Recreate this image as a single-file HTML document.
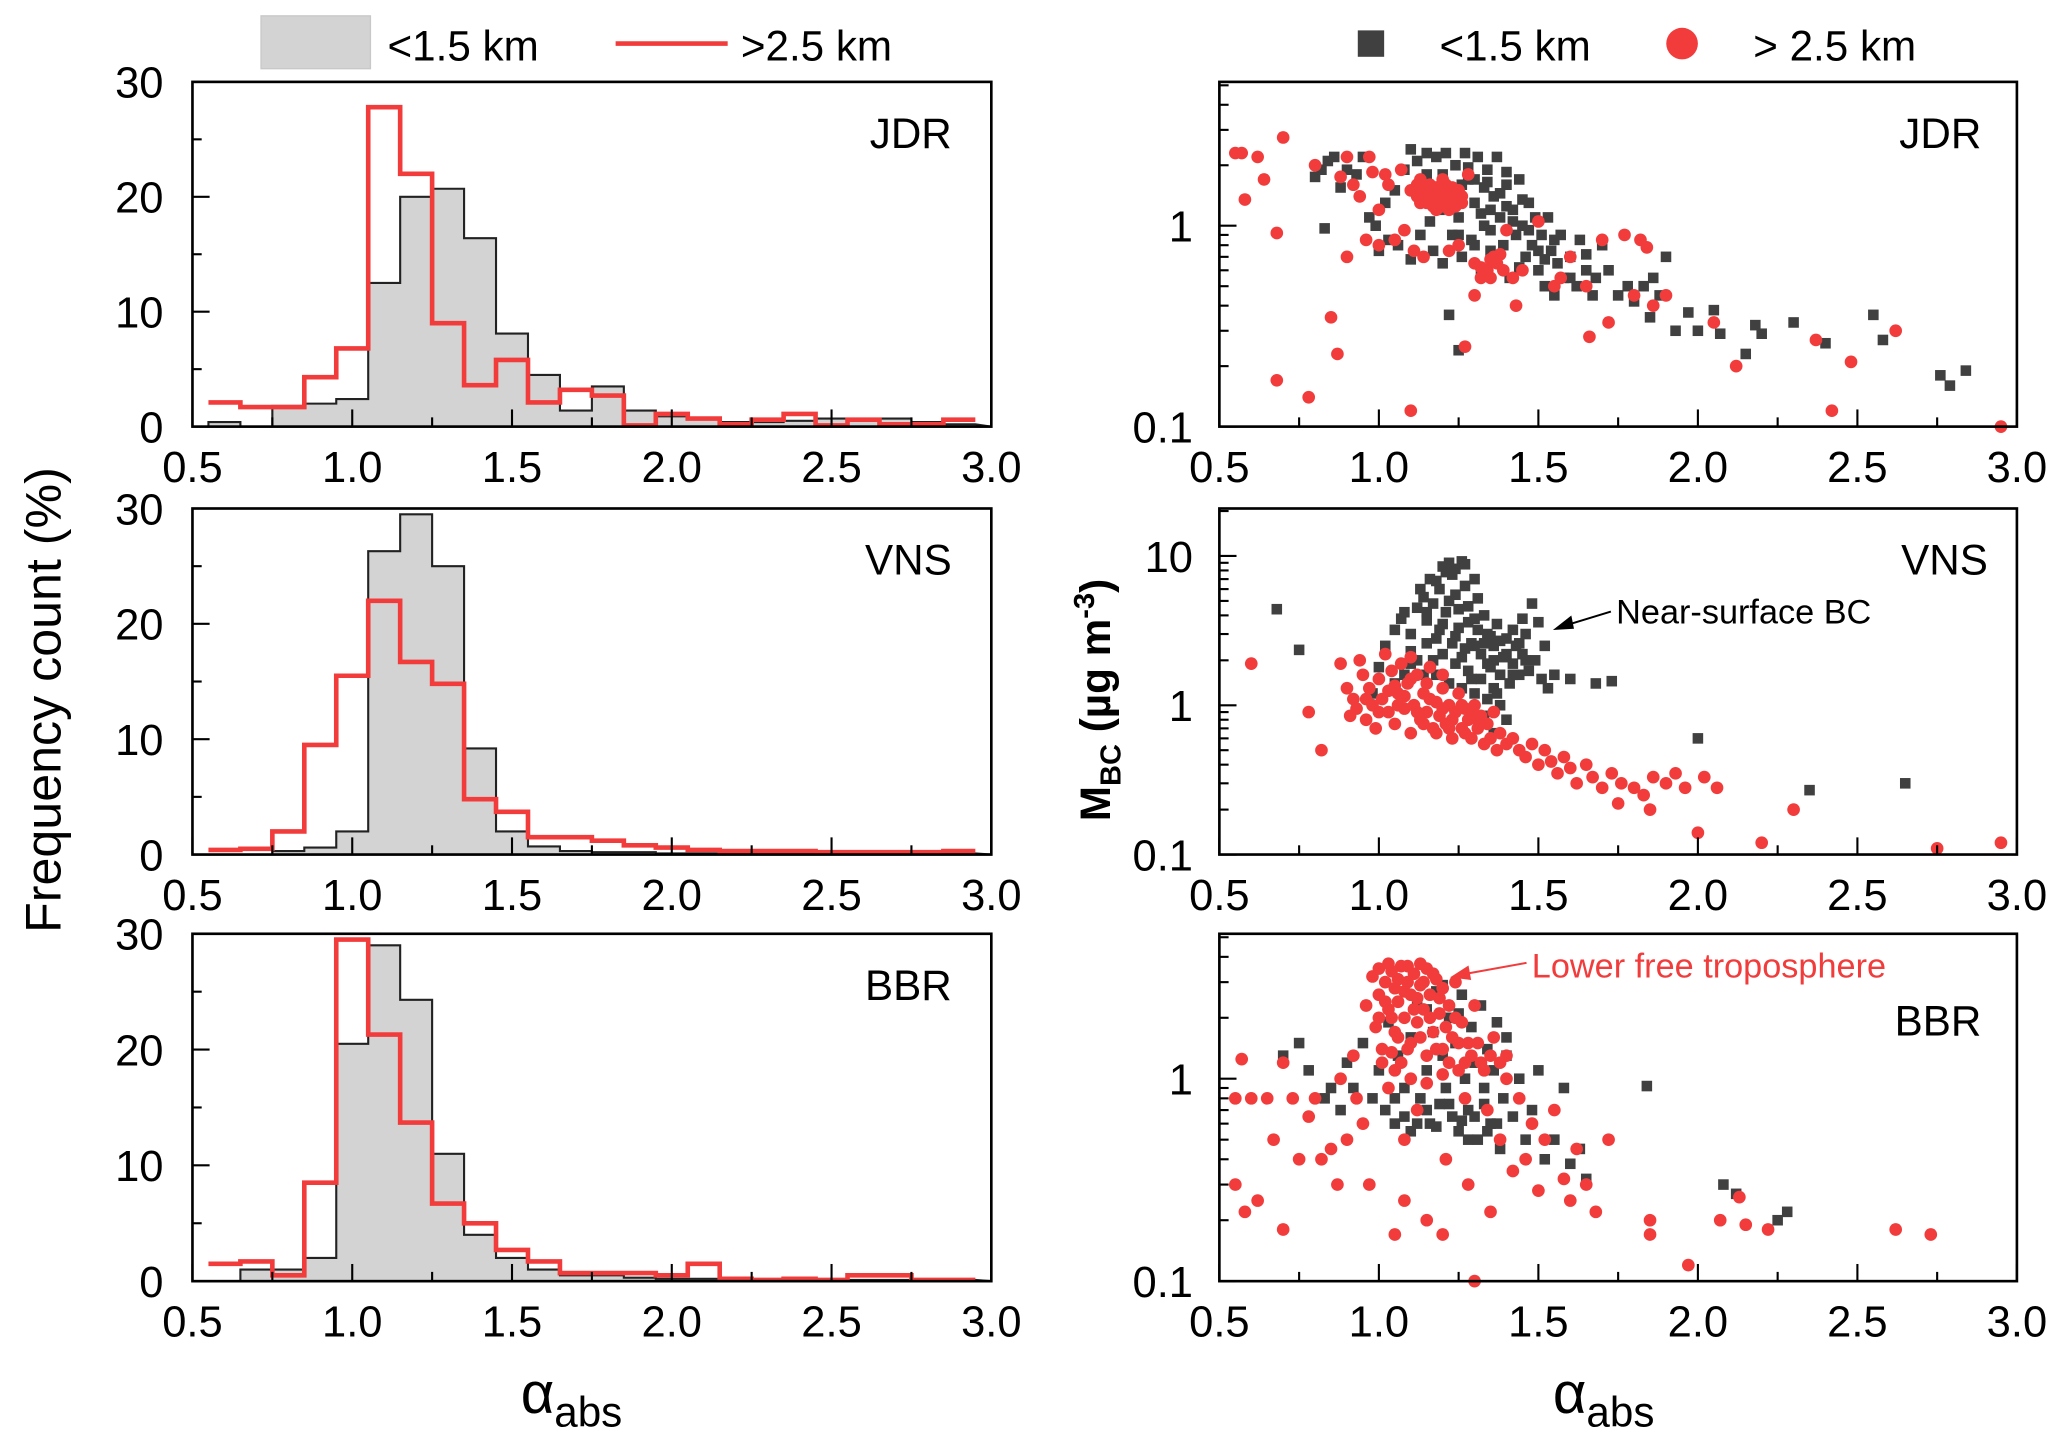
<!DOCTYPE html>
<html><head><meta charset="utf-8"><title>alpha_abs histograms and MBC scatter</title>
<style>
html,body{margin:0;padding:0;background:#fff;}
svg{display:block;font-family:"Liberation Sans",Arial,sans-serif;}
</style></head>
<body>
<svg id="fig" width="2067" height="1437" viewBox="0 0 1568 1088" preserveAspectRatio="none" xmlns="http://www.w3.org/2000/svg">
  <rect x="0" y="0" width="1568" height="1088" fill="#fff"/>
  <g>
    <rect x="198" y="12" width="83" height="40" fill="#d3d3d3" stroke="#c8c8c8"/>
    <text x="294" y="46" font-size="32">&lt;1.5 km</text>
    <line x1="467" y1="33" x2="552" y2="33" stroke="#f23c3c" stroke-width="3.5"/>
    <text x="562" y="46" font-size="32">&gt;2.5 km</text>
  </g>
  <g>
    <rect x="1030" y="23" width="20" height="20" fill="#404040"/>
    <text x="1092" y="46" font-size="32">&lt;1.5 km</text>
    <circle cx="1276" cy="33" r="12" fill="#f23c3c"/>
    <text x="1330" y="46" font-size="32">&gt; 2.5 km</text>
  </g>
  <text transform="translate(46,530) rotate(-90)" text-anchor="middle" font-size="38">Frequency count (%)</text>
  <text transform="translate(842,530) rotate(-90)" text-anchor="middle" font-size="32" font-weight="bold">M<tspan font-size="22" dy="8">BC</tspan><tspan dy="-8"> (µg m</tspan><tspan font-size="22" dy="-12">-3</tspan><tspan dy="12">)</tspan></text>
  <text x="395" y="1070" font-size="44">α<tspan font-size="32" dy="10">abs</tspan></text>
  <text x="1178" y="1070" font-size="44">α<tspan font-size="32" dy="10">abs</tspan></text>
  <g id="plots"></g>
</svg>
<script>
// ---- histogram data (bins of width 0.1, centers 0.6 ... 2.9) ----
const binCenters = [0.6,0.7,0.8,0.9,1.0,1.1,1.2,1.3,1.4,1.5,1.6,1.7,1.8,1.9,2.0,2.1,2.2,2.3,2.4,2.5,2.6,2.7,2.8,2.9];
const jdrNear = [0.4,0,1.8,2.0,2.4,12.5,20,20.7,16.4,8.1,4.5,1.4,3.5,1.4,0.9,0.7,0.4,0.4,0.5,0.7,0.6,0.7,0.4,0.2];
const jdrFree = [2.1,1.7,1.7,4.3,6.8,27.8,22,9,3.6,5.8,2.1,3.2,2.7,0.1,1.1,0.7,0.2,0.6,1.1,0.1,0.6,0.2,0.2,0.6];
const vnsNear = [0,0,0.3,0.6,2,26.3,29.5,25,9.2,2,0.7,0.3,0.2,0.2,0.1,0.1,0.1,0.1,0.1,0.1,0.1,0.1,0.1,0.1];
const vnsFree = [0.4,0.5,2,9.5,15.5,22,16.7,14.8,4.8,3.7,1.5,1.5,1.2,0.8,0.6,0.4,0.3,0.3,0.3,0.2,0.2,0.2,0.2,0.3];
const bbrNear = [0,1,1,2,20.5,29,24.3,11,4,2,1,0.5,0.5,0.3,0.2,0.2,0.1,0.1,0.1,0.1,0.1,0.1,0.1,0.1];
const bbrFree = [1.5,1.7,0.5,8.5,29.5,21.3,13.7,6.7,5,2.7,1.7,0.7,0.7,0.7,0.5,1.5,0.2,0.1,0.2,0.1,0.5,0.5,0.1,0.1];
const xTicks = [0.5,1.0,1.5,2.0,2.5,3.0];
const xTickLabels = ["0.5","1.0","1.5","2.0","2.5","3.0"];
const histYTicks = [0,10,20,30];
const histYTickLabels = ["0","10","20","30"];
const logTickLabelsA = ["0.1","1"];
const logTickLabelsB = ["0.1","1","10"];

// ---- scatter data [alpha_abs, M_BC] ----
const jdrNearPts = [[0.8,1.75],[0.82,1.9],[0.84,2.1],[0.86,2.2],[0.88,1.55],[0.83,0.97],[0.9,1.9],[0.93,1.8],[0.95,2.2],[0.97,1.1],[0.99,1.0],[1.0,0.75],[1.02,1.3],[1.03,0.85],[1.05,1.5],[1.06,0.8],[1.08,1.9],[1.1,2.4],[1.1,0.68],[1.12,2.1],[1.13,0.9],[1.14,1.6],[1.15,2.3],[1.16,1.05],[1.17,0.75],[1.18,2.2],[1.19,1.2],[1.2,0.65],[1.21,2.3],[1.22,1.5],[1.23,0.9],[1.24,2.0],[1.25,1.1],[1.26,0.7],[1.27,2.3],[1.28,1.7],[1.29,0.85],[1.3,1.3],[1.31,2.2],[1.32,0.6],[1.33,1.0],[1.34,1.9],[1.35,0.75],[1.36,1.4],[1.37,2.2],[1.38,1.1],[1.39,0.8],[1.4,1.6],[1.41,0.55],[1.42,1.2],[1.43,0.9],[1.44,1.7],[1.45,1.0],[1.46,0.7],[1.47,1.3],[1.48,0.8],[1.49,1.1],[1.5,0.6],[1.51,0.9],[1.52,0.5],[1.53,1.1],[1.54,0.75],[1.55,0.45],[1.56,0.65],[1.57,0.9],[1.58,0.55],[1.6,0.7],[1.62,0.5],[1.63,0.85],[1.65,0.6],[1.67,0.45],[1.68,0.55],[1.7,0.8],[1.72,0.6],[1.75,0.45],[1.78,0.5],[1.8,0.42],[1.83,0.5],[1.85,0.35],[1.86,0.55],[1.88,0.45],[1.9,0.7],[1.93,0.3],[1.97,0.37],[2.0,0.3],[2.05,0.38],[2.07,0.29],[2.15,0.23],[2.18,0.32],[2.2,0.29],[2.3,0.33],[2.4,0.26],[2.55,0.36],[2.58,0.27],[2.76,0.18],[2.79,0.16],[2.84,0.19],[1.22,0.36],[1.25,0.24],[1.15,1.8],[1.3,1.7],[1.2,1.4],[1.35,1.2],[1.28,1.95],[1.33,1.55],[1.38,1.45],[1.42,1.05],[1.45,1.35],[1.47,0.95],[1.35,0.95],[1.4,1.25],[1.32,1.15],[1.25,0.9],[1.3,0.8],[1.37,0.68],[1.44,0.62],[1.5,0.75],[1.55,0.85],[1.6,0.55],[1.65,0.72],[1.52,0.68],[1.2,1.8],[1.26,1.6],[1.4,1.85],[1.34,1.65]];
const jdrFreePts = [[0.55,2.3],[0.57,2.3],[0.62,2.2],[0.64,1.7],[0.58,1.35],[0.7,2.75],[0.68,0.92],[0.68,0.17],[0.78,0.14],[0.8,2.0],[0.85,0.35],[0.87,0.23],[0.88,1.75],[0.9,0.7],[0.9,2.2],[0.92,1.6],[0.94,1.4],[0.96,0.85],[0.97,2.2],[0.98,1.85],[1.0,0.8],[1.0,1.2],[1.02,1.8],[1.03,1.6],[1.05,0.85],[1.07,1.9],[1.08,0.95],[1.1,0.12],[1.1,1.5],[1.11,0.75],[1.12,1.4],[1.13,1.7],[1.14,0.7],[1.15,1.3],[1.16,1.6],[1.17,1.45],[1.18,1.2],[1.19,1.5],[1.2,1.35],[1.21,1.6],[1.22,1.3],[1.23,1.4],[1.24,1.25],[1.25,1.5],[1.26,1.4],[1.22,0.75],[1.25,0.8],[1.27,0.25],[1.28,1.8],[1.3,0.45],[1.3,0.65],[1.32,0.55],[1.34,0.6],[1.36,0.7],[1.37,0.65],[1.38,0.72],[1.4,0.95],[1.42,0.55],[1.43,0.4],[1.45,0.6],[1.5,1.05],[1.55,0.5],[1.57,0.55],[1.6,0.7],[1.65,0.5],[1.7,0.85],[1.72,0.33],[1.66,0.28],[1.77,0.9],[1.8,0.45],[1.82,0.85],[1.84,0.78],[1.86,0.4],[1.9,0.45],[2.05,0.33],[2.12,0.2],[2.37,0.27],[2.42,0.12],[2.48,0.21],[2.62,0.3],[2.95,0.1],[1.14,1.45],[1.16,1.35],[1.18,1.55],[1.2,1.25],[1.21,1.45],[1.23,1.55],[1.19,1.3],[1.17,1.25],[1.15,1.55],[1.24,1.38],[1.22,1.2],[1.13,1.3],[1.12,1.6],[1.26,1.3],[1.2,1.7],[1.32,0.62],[1.35,0.55],[1.39,0.6],[1.35,0.68]];
const vnsNearPts = [[0.68,4.4],[0.75,2.35],[0.98,1.2],[1.0,1.8],[1.02,2.5],[1.05,3.2],[1.07,3.8],[1.08,4.2],[1.1,3.0],[1.12,4.5],[1.13,6.0],[1.14,5.3],[1.15,3.7],[1.16,7.0],[1.17,4.8],[1.18,2.8],[1.19,6.0],[1.2,8.5],[1.21,4.2],[1.22,9.0],[1.23,7.5],[1.24,5.5],[1.25,3.3],[1.26,9.2],[1.27,6.3],[1.28,4.6],[1.29,2.6],[1.3,7.0],[1.3,3.8],[1.31,5.2],[1.32,2.2],[1.33,4.0],[1.34,3.0],[1.35,1.8],[1.36,2.5],[1.37,3.5],[1.38,1.6],[1.39,2.1],[1.4,2.8],[1.41,1.4],[1.42,1.9],[1.43,2.5],[1.44,1.6],[1.45,2.2],[1.46,3.0],[1.47,1.7],[1.48,4.8],[1.49,2.0],[1.5,3.6],[1.51,1.5],[1.52,2.5],[1.53,1.3],[1.55,1.6],[1.12,2.0],[1.15,2.6],[1.18,1.6],[1.2,2.2],[1.22,1.4],[1.24,1.9],[1.26,1.3],[1.28,1.7],[1.3,1.2],[1.32,1.5],[1.34,1.1],[1.36,1.3],[1.38,1.0],[1.33,0.85],[1.36,0.65],[1.4,0.8],[1.2,3.5],[1.24,2.9],[1.1,2.3],[1.08,1.6],[1.17,2.0],[1.6,1.5],[1.68,1.4],[1.73,1.45],[2.0,0.6],[2.35,0.27],[2.65,0.3],[1.05,1.4],[1.27,2.4],[1.35,2.9],[1.42,3.2],[1.45,3.8],[1.18,6.8],[1.21,7.8],[1.24,8.2],[1.27,8.8],[1.22,5.0],[1.25,4.4],[1.28,3.6],[1.31,3.2],[1.33,2.6],[1.36,2.0],[1.38,2.7],[1.4,2.2],[1.42,1.6],[1.44,2.6],[1.46,2.0],[1.15,4.2],[1.19,3.2],[1.23,2.6],[1.26,2.1],[1.3,2.5],[1.34,1.9],[1.29,1.5],[1.37,1.2],[1.1,1.9],[1.14,1.6]];
const vnsFreePts = [[0.6,1.9],[0.78,0.9],[0.82,0.5],[0.88,1.9],[0.9,1.3],[0.91,0.85],[0.92,1.1],[0.93,0.95],[0.94,2.0],[0.95,1.6],[0.96,0.8],[0.97,1.3],[0.98,1.0],[0.99,0.7],[1.0,1.5],[1.01,1.1],[1.02,2.2],[1.03,0.9],[1.04,1.7],[1.05,0.75],[1.06,1.2],[1.07,1.9],[1.08,0.95],[1.09,1.4],[1.1,0.65],[1.1,2.1],[1.11,1.0],[1.12,1.6],[1.13,0.8],[1.14,1.2],[1.15,0.9],[1.16,1.8],[1.17,0.7],[1.18,1.05],[1.19,0.85],[1.2,1.3],[1.21,0.75],[1.22,1.0],[1.23,0.6],[1.24,0.9],[1.25,1.2],[1.26,0.7],[1.27,0.95],[1.28,0.8],[1.29,0.6],[1.3,1.0],[1.31,0.7],[1.32,0.85],[1.33,0.55],[1.34,0.75],[1.35,0.6],[1.36,0.9],[1.37,0.5],[1.38,0.65],[1.4,0.55],[1.42,0.6],[1.44,0.5],[1.46,0.45],[1.48,0.55],[1.5,0.4],[1.52,0.5],[1.54,0.42],[1.56,0.35],[1.58,0.45],[1.6,0.38],[1.62,0.3],[1.65,0.4],[1.67,0.33],[1.7,0.28],[1.73,0.35],[1.76,0.3],[1.8,0.28],[1.83,0.25],[1.86,0.33],[1.9,0.3],[1.93,0.35],[1.96,0.28],[2.02,0.33],[2.06,0.28],[2.0,0.14],[2.2,0.12],[2.3,0.2],[2.75,0.11],[2.95,0.12],[1.75,0.22],[1.85,0.2],[1.1,1.5],[1.15,1.4],[1.2,1.6],[1.05,1.35],[1.08,1.15],[1.12,0.9],[1.16,1.1],[1.2,0.95],[1.23,0.8],[1.26,1.0],[1.29,0.9],[1.31,0.8],[1.03,1.25],[1.06,1.0],[1.0,0.9],[0.96,1.1],[1.14,0.75],[1.18,0.65],[1.22,0.7],[1.27,0.65]];
const bbrNearPts = [[0.7,1.3],[0.75,1.5],[0.78,1.1],[0.83,0.8],[0.85,0.9],[0.88,0.7],[0.9,1.2],[0.92,0.9],[0.95,1.5],[0.98,0.8],[1.0,1.1],[1.02,0.7],[1.03,1.9],[1.05,0.6],[1.06,1.3],[1.08,0.9],[1.1,1.6],[1.1,0.55],[1.12,2.4],[1.13,0.8],[1.15,1.1],[1.16,0.6],[1.17,1.7],[1.18,2.7],[1.19,0.75],[1.2,1.3],[1.21,0.9],[1.22,2.0],[1.23,0.65],[1.24,1.5],[1.25,0.55],[1.26,2.6],[1.27,1.0],[1.28,0.7],[1.29,1.8],[1.3,1.2],[1.31,0.5],[1.32,2.3],[1.33,0.9],[1.34,1.4],[1.35,0.6],[1.36,1.1],[1.37,1.9],[1.38,0.45],[1.39,0.8],[1.4,1.3],[1.42,0.65],[1.44,1.0],[1.46,0.5],[1.48,0.7],[1.5,1.1],[1.52,0.4],[1.55,0.5],[1.58,0.9],[1.6,0.38],[1.63,0.45],[1.65,0.32],[1.84,0.92],[2.08,0.3],[2.12,0.27],[2.25,0.2],[2.28,0.22],[1.15,2.2],[1.2,2.9],[1.25,2.1],[1.4,1.6],[1.08,0.65],[1.12,0.6],[1.18,0.58],[1.22,0.75],[1.26,0.62],[1.3,0.65],[1.34,0.55],[1.15,0.7],[1.05,0.8],[1.28,0.5],[1.33,0.75],[1.37,0.6]];
const bbrFreePts = [[0.55,0.8],[0.57,1.25],[0.55,0.3],[0.58,0.22],[0.6,0.8],[0.62,0.25],[0.65,0.8],[0.67,0.5],[0.7,1.2],[0.7,0.18],[0.73,0.8],[0.75,0.4],[0.78,0.65],[0.8,0.8],[0.82,0.4],[0.85,0.45],[0.87,0.3],[0.88,1.0],[0.9,0.5],[0.92,1.3],[0.93,0.8],[0.95,0.6],[0.96,2.3],[0.97,0.3],[0.98,3.2],[0.99,1.8],[1.0,3.5],[1.0,2.6],[1.01,1.4],[1.02,3.0],[1.03,2.2],[1.03,0.9],[1.04,3.4],[1.05,1.7],[1.05,2.8],[1.06,2.4],[1.07,3.6],[1.07,1.2],[1.08,2.0],[1.08,0.5],[1.09,3.0],[1.1,2.6],[1.1,1.5],[1.11,3.3],[1.12,1.9],[1.12,0.7],[1.13,2.9],[1.14,2.2],[1.15,3.5],[1.15,1.3],[1.16,2.6],[1.17,1.7],[1.18,3.1],[1.19,2.1],[1.2,1.4],[1.2,2.8],[1.21,0.4],[1.22,2.3],[1.23,1.6],[1.24,3.0],[1.25,1.1],[1.26,1.9],[1.27,0.8],[1.28,1.5],[1.3,2.3],[1.32,1.2],[1.34,0.7],[1.36,1.6],[1.38,0.5],[1.4,1.0],[1.42,0.35],[1.44,0.8],[1.46,0.4],[1.48,0.6],[1.5,0.28],[1.52,0.5],[1.55,0.7],[1.58,0.32],[1.6,0.25],[1.62,0.45],[1.65,0.3],[1.68,0.22],[1.72,0.5],[1.08,0.25],[1.15,0.2],[1.2,0.17],[1.28,0.3],[1.35,0.22],[1.05,0.17],[1.3,0.1],[1.85,0.2],[1.85,0.17],[1.97,0.12],[2.07,0.2],[2.13,0.26],[2.15,0.19],[2.22,0.18],[2.62,0.18],[2.73,0.17],[1.12,2.5],[1.06,3.1],[1.0,2.0],[1.17,3.3],[1.02,2.4],[1.04,2.0],[1.06,1.6],[1.08,2.7],[1.09,1.4],[1.11,2.2],[1.13,1.6],[1.14,3.0],[1.16,2.0],[1.18,1.4],[1.19,2.5],[1.21,1.8],[1.22,1.2],[1.24,2.0],[1.25,1.5],[1.27,1.2],[1.29,1.3],[1.31,1.5],[1.33,1.1],[1.35,1.3],[1.38,1.2],[1.4,1.3],[1.05,1.1],[1.1,1.0],[1.15,0.95],[1.2,1.05],[1.03,3.7],[1.09,3.6],[1.13,3.7],[1.01,1.2],[1.04,1.35]];

const NS = "http://www.w3.org/2000/svg";
const root = document.getElementById("plots");
const RED = "#f23c3c", GRAY = "#404040";
function mk(tag, attrs, parent) {
  const e = document.createElementNS(NS, tag);
  for (const k in attrs) e.setAttribute(k, attrs[k]);
  (parent || root).appendChild(e);
  return e;
}
const panels = [
  {top:62, bottom:323}, {top:385, bottom:647}, {top:707, bottom:970}
];
const LX0 = 146, LX1 = 752, RX0 = 925, RX1 = 1530;
function xScale(x0, x1) { return v => x0 + (v - 0.5) / 2.5 * (x1 - x0); }

function xAxis(g, sx, bottom, x0, x1) {
  for (let v = 0.5; v <= 3.001; v += 0.25) {
    const major = Math.abs(v * 2 - Math.round(v * 2)) < 1e-6;
    const t = mk("line", {x1: sx(v), x2: sx(v), y1: bottom, y2: bottom - (major ? 13 : 7), stroke: "#000", "stroke-width": 1.6}, g);
    
    
  }
  xTicks.forEach((v, i) => {
    const t = mk("text", {x: sx(v), y: bottom + 42, "text-anchor": "middle", "font-size": 33}, g);
    t.textContent = xTickLabels[i];
    
    
  });
}
function frame(g, x0, x1, p) {
  const r = mk("rect", {x: x0, y: p.top, width: x1 - x0, height: p.bottom - p.top, fill: "none", stroke: "#000", "stroke-width": 2}, g);
  
  
}
function label(g, txt, x, y, name) {
  const t = mk("text", {x: x, y: y, "text-anchor": "end", "font-size": 32}, g);
  t.textContent = txt;
  
  
}

// ---- histograms ----
const hist = [[jdrNear, jdrFree, "JDR"], [vnsNear, vnsFree, "VNS"], [bbrNear, bbrFree, "BBR"]];
hist.forEach((h, i) => {
  const p = panels[i];
  const g = mk("g", {});
  
  
  const sx = xScale(LX0, LX1);
  const sy = v => p.bottom - v / 30 * (p.bottom - p.top);
  let d = "M" + sx(binCenters[0] - 0.05) + "," + sy(0);
  h[0].forEach((v, k) => {
    d += " L" + sx(binCenters[k] - 0.05) + "," + sy(v) + " L" + sx(binCenters[k] + 0.05) + "," + sy(v);
  });
  d += " L" + sx(3.0) + "," + sy(0) + " Z";
  const gp = mk("path", {d: d, fill: "#d3d3d3", stroke: "#222", "stroke-width": 1.6}, g);
  
  
  let rd = "";
  h[1].forEach((v, k) => {
    rd += (k ? " L" : "M") + sx(binCenters[k] - 0.05) + "," + sy(v) + " L" + sx(binCenters[k] + 0.05) + "," + sy(v);
  });
  const rp = mk("path", {d: rd, fill: "none", stroke: RED, "stroke-width": 3.5, "stroke-linejoin": "miter"}, g);
  
  
  for (let v = 0; v <= 30; v += 5) {
    const major = v % 10 === 0;
    const t = mk("line", {x1: LX0, x2: LX0 + (major ? 13 : 7), y1: sy(v), y2: sy(v), stroke: "#000", "stroke-width": 1.6}, g);
    
    
  }
  histYTicks.forEach((v, k) => {
    const t = mk("text", {x: LX0 - 22, y: sy(v) + 12, "text-anchor": "end", "font-size": 33}, g);
    t.textContent = histYTickLabels[k];
    
    
  });
  xAxis(g, sx, p.bottom, LX0, LX1);
  frame(g, LX0, LX1, p);
  label(g, h[2], 722, p.top + 50, 'site-label');
});

// ---- scatter ----
const logRanges = [[0.1, 5.2], [0.1, 20.8], [0.1, 5.2]];
const scat = [[jdrNearPts, jdrFreePts, "JDR", logTickLabelsA], [vnsNearPts, vnsFreePts, "VNS", logTickLabelsB], [bbrNearPts, bbrFreePts, "BBR", logTickLabelsA]];
scat.forEach((s, i) => {
  const p = panels[i];
  const g = mk("g", {});
  
  
  const sx = xScale(RX0, RX1);
  const lo = Math.log10(logRanges[i][0]), hi = Math.log10(logRanges[i][1]);
  const sy = v => p.bottom - (Math.log10(v) - lo) / (hi - lo) * (p.bottom - p.top);
  s[0].forEach(pt => {
    const m = mk("rect", {x: sx(pt[0]) - 4, y: sy(pt[1]) - 4, width: 8, height: 8, fill: GRAY}, g);
    
    
  });
  s[1].forEach(pt => {
    const m = mk("circle", {cx: sx(pt[0]), cy: sy(pt[1]), r: 4.8, fill: RED}, g);
    
    
  });
  for (let dec = 0.1; dec < logRanges[i][1]; dec *= 10) {
    for (let m = 1; m <= 9; m++) {
      const v = dec * m;
      if (v > logRanges[i][1]) break;
      const t = mk("line", {x1: RX0, x2: RX0 + (m === 1 ? 13 : 7), y1: sy(v), y2: sy(v), stroke: "#000", "stroke-width": 1.6}, g);
      
      
    }
  }
  s[3].forEach(lbl => {
    const t = mk("text", {x: RX0 - 20, y: sy(parseFloat(lbl)) + 12, "text-anchor": "end", "font-size": 33}, g);
    t.textContent = lbl;
    
    
  });
  xAxis(g, sx, p.bottom, RX0, RX1);
  frame(g, RX0, RX1, p);
  label(g, s[2], i === 1 ? 1508 : 1503, i === 2 ? 784 : p.top + 50, 'site-label');
});

// ---- annotations ----
const a1 = mk("g", {});


mk("line", {x1: 1222, y1: 463, x2: 1186, y2: 474, stroke: "#000", "stroke-width": 1.5}, a1);
mk("polygon", {points: "1178,477 1192,466 1194,476", fill: "#000"}, a1);
const t1 = mk("text", {x: 1226, y: 472, "font-size": 26}, a1);
t1.textContent = "Near-surface BC";
const a2 = mk("g", {});


mk("line", {x1: 1158, y1: 729, x2: 1108, y2: 738, stroke: RED, "stroke-width": 1.5}, a2);
mk("polygon", {points: "1100,740 1114,731 1116,742", fill: RED}, a2);
const t2 = mk("text", {x: 1162, y: 740, "font-size": 26, fill: RED}, a2);
t2.textContent = "Lower free troposphere";
</script>
</body></html>
